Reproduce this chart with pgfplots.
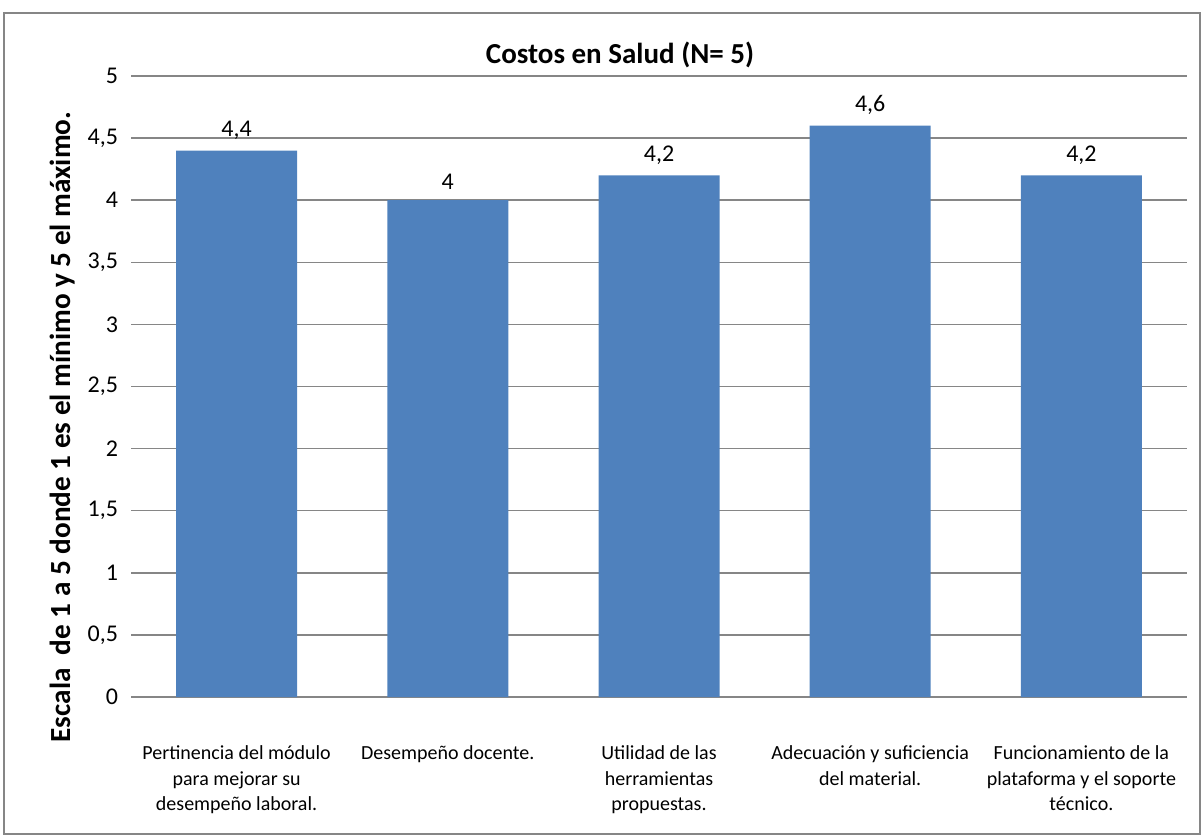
\documentclass[border=0pt]{standalone}
\usepackage{pgfplots}
\pgfplotsset{compat=1.18}
\usepackage{fontspec}
\setmainfont{Carlito}
\definecolor{barblue}{HTML}{4F81BD}
\definecolor{linegray}{HTML}{868686}

\begin{document}
\begin{tikzpicture}
\useasboundingbox (0,0) rectangle (602pt,418.5pt);
\draw[linegray, line width=1pt] (2pt,1.5pt) rectangle (600pt,412pt);
\begin{axis}[
    at={(65.5pt,70pt)}, anchor=south west,
    scale only axis,
    width=528pt, height=310.5pt,
    ybar, bar width=60.5pt,
    xmin=-0.5, xmax=4.5,
    ymin=0, ymax=5,
    ytick={0,0.5,...,5},
    xtick=data,
    xticklabels={
        {Pertinencia del módulo\\para mejorar su\\desempeño laboral.},
        {Desempeño docente.},
        {Utilidad de las\\herramientas\\propuestas.},
        {Adecuación y suficiencia\\del material.},
        {Funcionamiento de la\\plataforma y el soporte\\técnico.}},
    xticklabel style={align=center, anchor=north, yshift=-21pt,
        font=\fontsize{10}{12.6}\selectfont},
    yticklabel style={font=\fontsize{12}{14}\selectfont, xshift=-3pt},
    /pgf/number format/use comma,
    /pgf/number format/assume math mode=true,
    major tick length=0pt,
    axis line style={draw=none},
    ymajorgrids=true,
    grid style={linegray, line width=0.75pt},
    nodes near coords,
    nodes near coords style={font=\fontsize{12}{14}\selectfont, yshift=2pt,
        /pgf/number format/use comma},
    clip=false,
]
\addplot[fill=barblue, draw=none] coordinates {
    (0,4.4) (1,4) (2,4.2) (3,4.6) (4,4.2)
};
\end{axis}
\node[font=\bfseries\fontsize{14.5}{16}\selectfont] at (310pt,391pt) {Costos en Salud (N= 5)};
\node[font=\bfseries\fontsize{14.6}{16}\selectfont, rotate=90] at (31.5pt,205pt)
    {Escala\ \ de 1 a 5 donde 1 es el mínimo y 5 el máximo.};
\end{tikzpicture}
\end{document}
